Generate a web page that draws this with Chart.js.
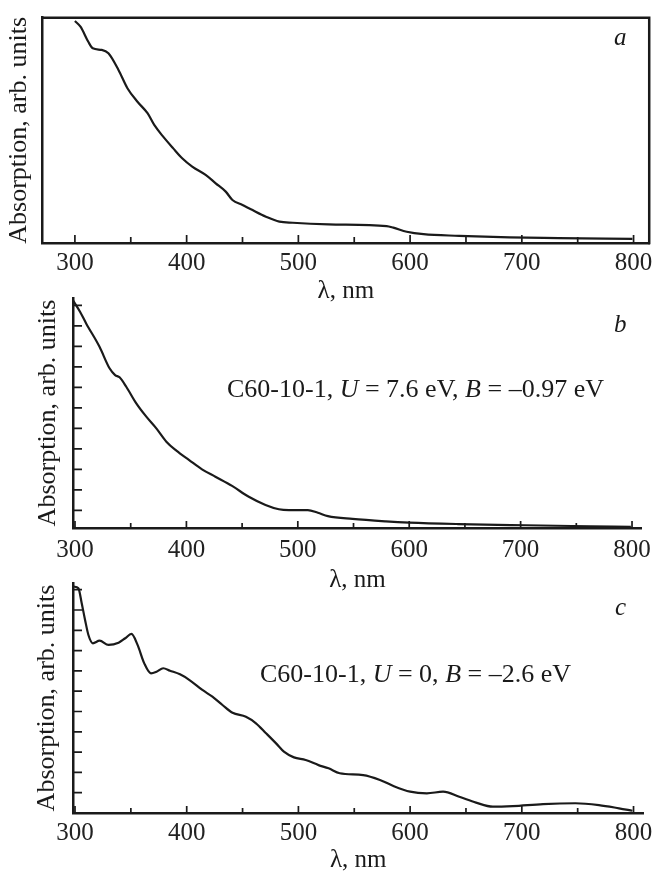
<!DOCTYPE html>
<html>
<head>
<meta charset="utf-8">
<script src="https://cdn.jsdelivr.net/npm/chart.js@4.4.1/dist/chart.umd.min.js"></script>
<style>
html,body{margin:0;padding:0;background:#fff;width:658px;height:872px;overflow:hidden;position:relative;}
canvas{position:absolute;left:0;}
.t{position:absolute;font-family:"Liberation Serif","Times New Roman",serif;font-size:25px;line-height:25px;color:#1a1a1a;white-space:nowrap;}
.t.n{font-size:26px;line-height:26px;}
.t i{font-style:italic;}
</style>
</head>
<body>
<canvas id="pa" width="658" height="310" style="top:0px"></canvas>
<canvas id="pb" width="658" height="310" style="top:285px"></canvas>
<canvas id="pc" width="658" height="310" style="top:570px"></canvas>
<div class="t" style="left:614px;top:24px;"><i>a</i></div>
<div class="t" style="left:614px;top:311px;"><i>b</i></div>
<div class="t" style="left:615px;top:594px;"><i>c</i></div>
<div class="t n" style="left:227px;top:376px;">C60-10-1, <i>U</i> = 7.6 eV, <i>B</i> = –0.97 eV</div>
<div class="t n" style="left:260px;top:661px;">C60-10-1, <i>U</i> = 0, <i>B</i> = –2.6 eV</div>
<script>
// ---- data ----
const xMajorTicks = [300, 400, 500, 600, 700, 800];
const xMinorTicks = [350, 450, 550, 650, 750];
const yTickValues = [1, 2, 3, 4, 5, 6, 7, 8, 9, 10, 11];
const xTitle = 'λ, nm';
const yTitle = 'Absorption, arb. units';

const waveA = [300,305,312,316,324,330,339,347,356,365,371,379,388,396,405,417,426,435,441,450,459,471,483,495,527,579,585,597,612,644,689,733,799];
const absA  = [9.85,9.60,8.93,8.64,8.57,8.42,7.68,6.87,6.27,5.76,5.24,4.72,4.20,3.76,3.39,3.02,2.65,2.28,1.91,1.69,1.46,1.17,0.95,0.90,0.83,0.75,0.68,0.50,0.39,0.32,0.25,0.22,0.18];

const waveB = [298,304.5,310,322,331,336,340,346,355,364,373,382,391,402.5,414,426,441,456,471,483,492,509,518,527,549,579,600,644,704,763,799];
const absB  = [11.26,10.69,10.12,8.98,7.93,7.60,7.49,7.03,6.22,5.57,5.00,4.35,3.91,3.45,3.00,2.64,2.19,1.66,1.26,1.05,1.01,1.01,0.88,0.72,0.58,0.46,0.40,0.33,0.27,0.22,0.19];

const waveC = [299,303,306,309,312,316,322,330,339,345,350.5,356,362,368,373,379,385,394,402.5,414,423,432,441,453,462,471,480,487,496,506.5,518,527,537,558,573,585,600,615,629.5,644,659,674,692,719,748,769,787,799];
const absC  = [11.15,11.07,10.33,9.51,8.77,8.36,8.49,8.28,8.39,8.61,8.82,8.28,7.37,6.88,6.96,7.13,7.01,6.83,6.55,6.06,5.73,5.32,4.94,4.74,4.42,3.93,3.43,3.02,2.74,2.61,2.36,2.2,1.96,1.87,1.63,1.33,1.05,0.97,1.05,0.80,0.51,0.31,0.34,0.44,0.48,0.39,0.23,0.11];

// ---- rendering ----
const INK = '#1a1a1a';
const FONT = '"Liberation Serif", "Times New Roman", serif';

const inwardTicks = {
  id: 'inwardTicks',
  afterDraw(chart, args, o) {
    const {ctx, chartArea: a} = chart;
    const xs = chart.scales.x, ys = chart.scales.y;
    ctx.save();
    ctx.strokeStyle = INK;
    ctx.lineWidth = o.tickWidth;
    ctx.beginPath();
    o.xMajor.forEach(v => { const p = xs.getPixelForValue(v); ctx.moveTo(p, a.bottom); ctx.lineTo(p, a.bottom - o.majorLen); });
    o.xMinor.forEach(v => { const p = xs.getPixelForValue(v); ctx.moveTo(p, a.bottom); ctx.lineTo(p, a.bottom - o.minorLen); });
    (o.yTicks || []).forEach(v => { const p = ys.getPixelForValue(v); ctx.moveTo(a.left, p); ctx.lineTo(a.left + o.yLen, p); });
    ctx.stroke();
    if (o.box) {
      ctx.lineWidth = o.boxWidth;
      ctx.beginPath();
      ctx.moveTo(a.left - o.boxWidth / 2, a.top);
      ctx.lineTo(a.right, a.top);
      ctx.lineTo(a.right, a.bottom + o.boxWidth / 2);
      ctx.stroke();
    }
    ctx.restore();
  }
};

function panel(id, wave, absv, g) {
  const H = 310;
  const lhX = 25 * 1.2, lhY = 26 * 1.2;
  const scaleBottom = g.titleMid + lhX / 2;
  new Chart(document.getElementById(id), {
    type: 'line',
    data: {
      datasets: [{
        data: wave.map((w, i) => ({x: w, y: absv[i]})),
        borderColor: INK,
        borderWidth: 2.2,
        pointRadius: 0,
        cubicInterpolationMode: 'monotone',
        fill: false
      }]
    },
    options: {
      responsive: false,
      animation: false,
      devicePixelRatio: 1,
      events: [],
      layout: { padding: { top: g.T, right: 658 - g.R, bottom: H - scaleBottom, left: 0 } },
      plugins: {
        legend: { display: false },
        tooltip: { enabled: false },
        inwardTicks: {
          xMajor: xMajorTicks, xMinor: xMinorTicks,
          majorLen: g.majorLen, minorLen: g.minorLen,
          yTicks: g.yTicks, yLen: 9,
          tickWidth: 1.7, box: g.box, boxWidth: 2.5
        }
      },
      scales: {
        x: {
          type: 'linear', position: 'bottom',
          min: g.xmin, max: g.xmax,
          afterBuildTicks: s => { s.ticks = xMajorTicks.map(v => ({value: v})); },
          afterFit: s => { s.height = scaleBottom - g.B; },
          grid: { display: false, drawTicks: false },
          border: { display: true, color: INK, width: 2.5 },
          ticks: { color: '#222', font: { family: FONT, size: 25 }, padding: g.tickPad, maxRotation: 0, autoSkip: false },
          title: { display: true, text: xTitle, color: '#1a1a1a', font: { family: FONT, size: 25 }, padding: { top: 0, bottom: 0 } }
        },
        y: {
          type: 'linear', position: 'left',
          min: g.ymin, max: g.ymax,
          afterFit: s => { s.width = g.L; },
          grid: { display: false, drawTicks: false },
          border: { display: true, color: INK, width: 2.5 },
          ticks: { display: false },
          title: { display: true, text: yTitle, color: '#1a1a1a', font: { family: FONT, size: 26 }, padding: { top: g.yTitleX - lhY / 2, bottom: 0 } }
        }
      }
    },
    plugins: [inwardTicks]
  });
}

panel('pa', waveA, absA, { T: 17.7, B: 243, L: 42.5, R: 651, xmin: 271, xmax: 814, ymin: 0, ymax: 10,
  titleMid: 291.6, tickPad: 5.5, majorLen: 8, minorLen: 6, yTicks: null, box: true, yTitleX: 19.5 });
panel('pb', waveB, absB, { T: 13, B: 243, L: 73, R: 645, xmin: 298.2, xmax: 808.9, ymin: 0.137, ymax: 11.36,
  titleMid: 295, tickPad: 7, majorLen: 7, minorLen: 5, yTicks: yTickValues, box: false, yTitleX: 48 });
panel('pc', waveC, absC, { T: 13, B: 243, L: 73, R: 645, xmin: 298.2, xmax: 808.9, ymin: 0, ymax: 11.33,
  titleMid: 290.6, tickPad: 5.5, majorLen: 7, minorLen: 5, yTicks: yTickValues, box: false, yTitleX: 47 });
</script>
</body>
</html>
